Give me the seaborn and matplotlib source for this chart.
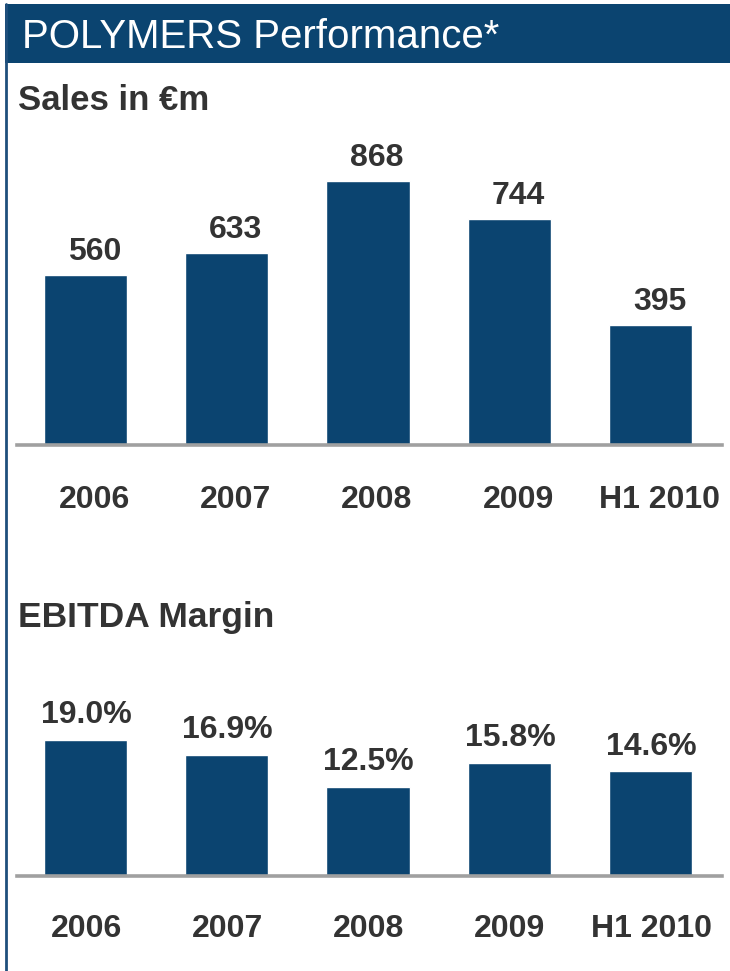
import matplotlib
matplotlib.use("Agg")
import matplotlib.pyplot as plt
from matplotlib.patches import Rectangle
from matplotlib.lines import Line2D
import seaborn as sns

# ---- data ----
years = ["2006", "2007", "2008", "2009", "H1 2010"]
sales = [560, 633, 868, 744, 395]
sales_labels = ["560", "633", "868", "744", "395"]
ebitda_margin = [19.0, 16.9, 12.5, 15.8, 14.6]
ebitda_labels = ["19.0%", "16.9%", "12.5%", "15.8%", "14.6%"]

title = "POLYMERS Performance*"
sales_title = "Sales in €m"
ebitda_title = "EBITDA Margin"

# ---- style ----
sns.set_theme(style="white")
plt.rcParams["font.family"] = ["Liberation Sans", "DejaVu Sans"]

BLUE = "#0b4470"
TEXT = "#333333"
GRID = "#a0a0a0"

W, H = 730, 971
fig = plt.figure(figsize=(W / 100, H / 100), dpi=100)
fig.patch.set_facecolor("white")


def rect(left, top, right, bottom):
    return [left / W, 1 - bottom / H, (right - left) / W, (bottom - top) / H]


# banner
fig.patches.append(Rectangle((5 / W, 1 - 63 / H), (W - 5) / W, 59 / H,
                             transform=fig.transFigure, facecolor=BLUE,
                             edgecolor="none", zorder=0))
fig.text(22 / W, 1 - 48 / H, title, color="white", fontsize=29,
         ha="left", va="baseline")
# left border line
fig.lines.append(Line2D([5.5 / W, 5.5 / W], [0, 1 - 4 / H],
                        transform=fig.transFigure, color="#1f4f7c", lw=2.0))

# section titles
fig.text(18 / W, 1 - 110 / H, sales_title, color=TEXT, fontsize=25,
         fontweight="bold", ha="left", va="baseline")
fig.text(18 / W, 1 - 627 / H, ebitda_title, color=TEXT, fontsize=25.5,
         fontweight="bold", ha="left", va="baseline")

xl = ((17 - 85.5) / 141.25, (722 - 85.5) / 141.25)


def draw(ax, values, labels, ymax, label_off, tick_off, dx):
    sns.barplot(x=years, y=values, color=BLUE, saturation=1, width=0.588,
                ax=ax, zorder=2)
    ax.set_xlim(*xl)
    ax.set_ylim(0, ymax)
    for s in ["top", "right", "left"]:
        ax.spines[s].set_visible(False)
    ax.spines["bottom"].set_color(GRID)
    ax.spines["bottom"].set_linewidth(2.6)
    ax.spines["bottom"].set_zorder(3)
    ax.set_yticks([])
    ax.set_xlabel("")
    ax.set_ylabel("")
    ax.tick_params(axis="x", length=0, labelbottom=False)
    ax.patch.set_alpha(0)
    for i, (v, lab, cat) in enumerate(zip(values, labels, years)):
        ax.annotate(lab, (i, v), xytext=(dx, label_off),
                    textcoords="offset points", ha="center", va="baseline",
                    fontsize=23, fontweight="bold", color=TEXT)
        ax.annotate(cat, (i, 0), xytext=(dx, -tick_off),
                    textcoords="offset points", ha="center", va="baseline",
                    fontsize=23, fontweight="bold", color=TEXT,
                    annotation_clip=False)


ax1 = fig.add_axes(rect(17, 130, 722, 445))
draw(ax1, sales, sales_labels, (445 - 130) / 0.3036, 10.8, 45.4, 6.5)

ax2 = fig.add_axes(rect(17, 680, 722, 876))
draw(ax2, ebitda_margin, ebitda_labels, (876 - 680) / 7.16, 12.2, 43.9, 0.5)

fig.savefig("out.png", dpi=100, facecolor="white")
